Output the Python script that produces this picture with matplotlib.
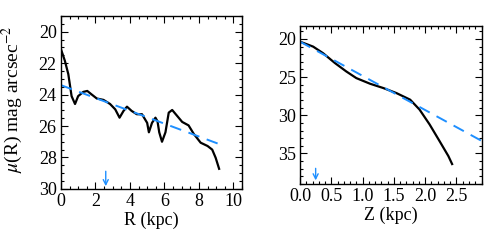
import numpy as np
import matplotlib
matplotlib.use('Agg')
import matplotlib.pyplot as plt
from matplotlib.ticker import MultipleLocator

# radial profile (black) and exponential fit (dashed)
r_kpc = [0.0, 0.23, 0.43, 0.62, 0.82, 1.0, 1.3, 1.53, 1.79, 2.08, 2.47, 2.85,
         3.15, 3.4, 3.63, 3.83, 4.1, 4.4, 4.7, 5.0, 5.1, 5.28, 5.48, 5.6, 5.7,
         5.86, 6.06, 6.25, 6.45, 6.74, 7.03, 7.4, 7.7, 8.1, 8.5, 8.77, 8.97, 9.17]
mu_r = [21.1, 21.85, 22.7, 24.1, 24.6, 24.1, 23.83, 23.77, 24.0, 24.25, 24.34,
        24.6, 24.94, 25.47, 25.04, 24.77, 25.04, 25.25, 25.25, 25.8, 26.4, 25.8,
        25.47, 25.7, 26.4, 27.0, 26.4, 25.15, 24.98, 25.36, 25.74, 25.96, 26.5,
        27.06, 27.27, 27.5, 28.02, 28.72]
r_fit = [0.0, 9.5]
mu_r_fit = [23.4, 27.28]
r_arrow = 2.6

# vertical profile
z_kpc = [0.0, 0.21, 0.37, 0.56, 0.74, 0.9, 1.12, 1.33, 1.54, 1.76, 1.91, 2.07,
         2.23, 2.37, 2.43]
mu_z = [20.35, 21.0, 21.87, 23.17, 24.26, 25.13, 25.87, 26.43, 27.09, 27.96,
        29.26, 31.2, 33.4, 35.35, 36.4]
z_fit = [0.0, 2.91]
mu_z_fit = [20.35, 33.4]
z_arrow = 0.25

blue = '#1e8fff'
plt.rcParams['font.family'] = ['Liberation Serif', 'DejaVu Serif']
plt.rcParams['mathtext.fontset'] = 'stix'

fig = plt.figure(figsize=(4.91, 2.41), dpi=100)
ax1 = fig.add_axes([0.124, 0.216, 0.369, 0.718])
ax2 = fig.add_axes([0.611, 0.237, 0.371, 0.655])

ax1.plot(r_kpc, mu_r, color='black', lw=1.6)
ax1.plot(r_fit, mu_r_fit, color=blue, lw=1.4, dashes=(6, 4))
ax1.annotate('', xy=(r_arrow, 30.0), xytext=(r_arrow, 28.7),
             arrowprops=dict(arrowstyle='->', color=blue, lw=1.0,
                             mutation_scale=9))
ax1.set_xlim(0, 10.5)
ax1.set_ylim(30, 19)
ax1.xaxis.set_major_locator(MultipleLocator(2))
ax1.xaxis.set_minor_locator(MultipleLocator(0.5))
ax1.yaxis.set_major_locator(MultipleLocator(2))
ax1.yaxis.set_minor_locator(MultipleLocator(0.5))
ax1.set_xlabel('R (kpc)', fontsize=13, labelpad=1)
ax1.set_ylabel(r'$\mu$(R) mag arcsec$^{-2}$', fontsize=14)
ax1.yaxis.set_label_coords(-0.2, 0.52)

ax2.plot(z_kpc, mu_z, color='black', lw=1.6)
ax2.plot(z_fit, mu_z_fit, color=blue, lw=1.4, dashes=(6, 4))
ax2.annotate('', xy=(z_arrow, 38.9), xytext=(z_arrow, 36.6),
             arrowprops=dict(arrowstyle='->', color=blue, lw=1.0,
                             mutation_scale=9))
ax2.set_xlim(0, 2.91)
ax2.set_ylim(39, 18.3)
ax2.xaxis.set_major_locator(MultipleLocator(0.5))
ax2.xaxis.set_minor_locator(MultipleLocator(0.1))
ax2.yaxis.set_major_locator(MultipleLocator(5))
ax2.yaxis.set_minor_locator(MultipleLocator(1))
ax2.set_xticks([0.0, 0.5, 1.0, 1.5, 2.0, 2.5])
ax2.set_xticklabels(['0.0', '0.5', '1.0', '1.5', '2.0', '2.5'])
ax2.set_xlabel('Z (kpc)', fontsize=13, labelpad=1)

for ax in (ax1, ax2):
    ax.tick_params(which='both', direction='in', top=True, right=True,
                   labelsize=13, width=0.8)
    ax.tick_params(which='major', length=5, pad=3)
    ax.tick_params(which='minor', length=2.5)
    for s in ax.spines.values():
        s.set_linewidth(1.0)

fig.savefig('out.png', dpi=100)
